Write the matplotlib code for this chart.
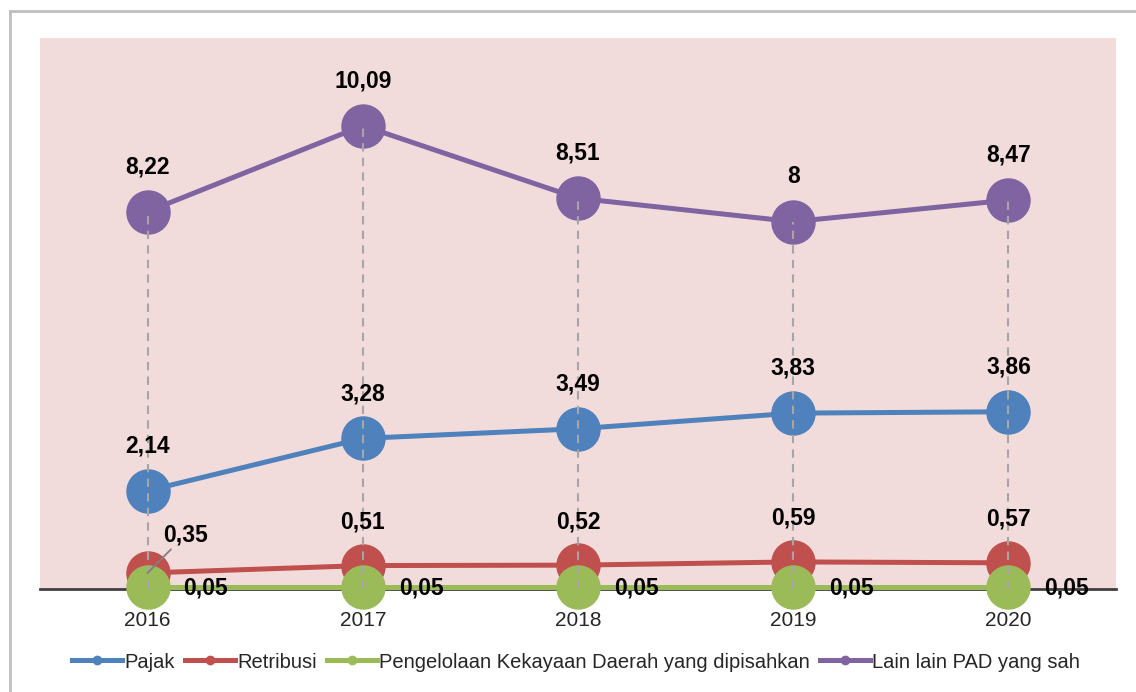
import numpy as np
import matplotlib.pyplot as plt
from matplotlib.lines import Line2D

# data
tahun = ['2016', '2017', '2018', '2019', '2020']
pajak = [2.14, 3.28, 3.49, 3.83, 3.86]
retribusi = [0.35, 0.51, 0.52, 0.59, 0.57]
kekayaan = [0.05, 0.05, 0.05, 0.05, 0.05]
lain_lain = [8.22, 10.09, 8.51, 8.00, 8.47]

nama = ['Pajak', 'Retribusi', 'Pengelolaan Kekayaan Daerah yang dipisahkan', 'Lain lain PAD yang sah']
warna = ['#4F81BD', '#C0504D', '#9BBB59', '#8064A2']

plt.rcParams['font.family'] = ['Liberation Sans Narrow', 'Liberation Sans', 'DejaVu Sans']

fig = plt.figure(figsize=(11.36, 6.92), dpi=100)
ax = fig.add_axes([40/1136, 1 - 589/692, (1116-40)/1136, (589-38)/692])
ax.set_facecolor('#F2DCDB')

x = np.arange(len(tahun))
seri = [pajak, retribusi, kekayaan, lain_lain]
for y, c in zip(seri, warna):
    ax.plot(x, y, color=c, lw=3.6, marker='o', ms=31, zorder=3, clip_on=False)

# garis putus-putus dari titik tertinggi ke sumbu
for xi, yi in zip(x, lain_lain):
    ax.plot([xi, xi], [0, yi], color='#A6A6A6', lw=1.5, ls=(0, (4, 3)), zorder=4)

def fmt(v):
    s = f'{v:.2f}'.rstrip('0').rstrip('.')
    return s.replace('.', ',')

lbl = dict(fontsize=16.5, fontweight='bold', color='black', ha='center', zorder=5)
for xi, v in zip(x, lain_lain):
    ax.annotate(fmt(v), (xi, v), xytext=(0, 24), textcoords='offset points', va='bottom', **lbl)
for xi, v in zip(x, pajak):
    ax.annotate(fmt(v), (xi, v), xytext=(0, 24), textcoords='offset points', va='bottom', **lbl)
for xi, v in zip(x, retribusi):
    if xi == 0:
        ax.annotate(fmt(v), (xi, v), xytext=(27, 19), textcoords='offset points', va='bottom',
                    arrowprops=dict(arrowstyle='-', color='#7F7F7F', lw=1.3,
                                    shrinkA=0, shrinkB=0),
                    **lbl)
    else:
        ax.annotate(fmt(v), (xi, v), xytext=(0, 23), textcoords='offset points', va='bottom', **lbl)
for xi, v in zip(x, kekayaan):
    ax.annotate(fmt(v), (xi, v), xytext=(42, -1), textcoords='offset points', va='center', **lbl)

ax.set_xlim(-0.5, 4.5)
ax.set_ylim(0, 12)
ax.set_xticks(x)
ax.set_xticklabels(tahun, fontsize=15, color='#262626')
ax.tick_params(axis='x', length=0, pad=16)
ax.set_yticks([])
for s in ['top', 'right', 'left']:
    ax.spines[s].set_visible(False)
ax.spines['bottom'].set_color('#404040')
ax.spines['bottom'].set_linewidth(2)
ax.spines['bottom'].set_zorder(2)

handles = [Line2D([], [], color=c, lw=3.6, marker='o', ms=6) for c in warna]
fig.legend(handles, nama, loc='center', bbox_to_anchor=(0.507, 1 - 662/692), ncol=4,
           frameon=False, fontsize=14.5, handlelength=2.5, handletextpad=0.1,
           columnspacing=0.5, labelcolor='#262626')

# bingkai luar
fig.add_artist(plt.Line2D([10/1136, 10/1136], [0, 1 - 11/692], color='#BFBFBF', lw=2))
fig.add_artist(plt.Line2D([10/1136, 1], [1 - 11/692, 1 - 11/692], color='#BFBFBF', lw=2))

fig.savefig('out.png', dpi=100)
